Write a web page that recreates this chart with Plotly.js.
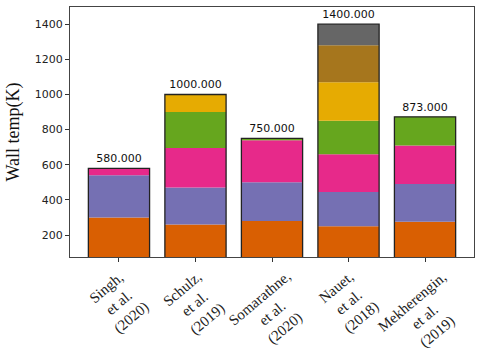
<!DOCTYPE html>
<html><head><meta charset="utf-8">
<script src="https://cdn.plot.ly/plotly-3.0.1.min.js"></script>
<style>body{margin:0;background:#fff}#c{width:480px;height:352px}</style>
</head><body><div id="c"></div>
<script>
const categories = ["Singh,<br>et al.<br>(2020)", "Schulz,<br>et al.<br>(2019)", "Somarathne,<br>et al.<br>(2020)", "Nauet,<br>et al.<br>(2018)", "Mekherengin,<br>et al.<br>(2019)"];
// segment heights per layer (bottom to top); null = no segment
const layer1 = [300, 260, 280, 250, 275];
const layer2 = [240, 210, 220, 195, 215];
const layer3 = [40, 225, 240, 215, 220];
const layer4 = [null, 205, 10, 190, 163];
const layer5 = [null, 100, null, 220, null];
const layer6 = [null, null, null, 210, null];
const layer7 = [null, null, null, 120, null];
const totals = [580, 1000, 750, 1400, 873];
const colors = ["#d95f02", "#7570b3", "#e7298a", "#66a61e", "#e6ab02", "#a6761d", "#666666"];
const layers = [layer1, layer2, layer3, layer4, layer5, layer6, layer7];

const x = [0, 1, 2, 3, 4];
const traces = [];
const cum = [0, 0, 0, 0, 0];
layers.forEach((lay, i) => {
  const base = cum.slice();
  traces.push({
    type: 'bar', x: x, y: lay.map(v => v === null ? 0 : v), base: base,
    width: 0.8, marker: {color: colors[i], line: {width: 0}},
    hoverinfo: 'skip', showlegend: false
  });
  lay.forEach((v, j) => { if (v !== null) cum[j] += v; });
});
traces.push({
  type: 'bar', x: x, y: totals, base: [0, 0, 0, 0, 0], width: 0.8,
  marker: {color: 'rgba(0,0,0,0)', line: {color: '#222', width: 1.3}},
  text: totals.map(v => v.toFixed(3)), textposition: 'outside', cliponaxis: false,
  textfont: {family: 'DejaVu Sans', size: 11, color: '#111'},
  showlegend: false
});

const annotations = categories.map((c, i) => ({
  x: x[i], xref: 'x', y: 0, yref: 'paper', text: c, showarrow: false,
  textangle: -40, align: 'center', xanchor: 'center', yanchor: 'top',
  yshift: -10, borderpad: 0,
  font: {family: 'Liberation Serif', size: 15, color: '#222'}
}));

const layout = {
  width: 480, height: 352,
  margin: {l: 70, r: 6, t: 7, b: 95},
  barmode: 'overlay',
  paper_bgcolor: '#fff', plot_bgcolor: '#fff',
  annotations: annotations,
  xaxis: {
    range: [-0.64, 4.64], tickvals: x, showticklabels: false,
    ticks: 'outside', ticklen: 4, tickcolor: '#333',
    showline: true, mirror: true, linecolor: '#444', linewidth: 1,
    showgrid: false, zeroline: false
  },
  yaxis: {
    range: [75, 1498], tickvals: [200, 400, 600, 800, 1000, 1200, 1400],
    ticks: 'outside', ticklen: 4, tickcolor: '#333',
    showline: true, mirror: true, linecolor: '#444', linewidth: 1,
    showgrid: false, zeroline: false,
    tickfont: {family: 'DejaVu Sans', size: 11, color: '#222'},
    title: {text: 'Wall temp(K)', font: {family: 'Liberation Serif', size: 18, color: '#111'}, standoff: 10}
  },
  font: {family: 'DejaVu Sans'}
};
Plotly.newPlot('c', traces, layout, {displayModeBar: false, staticPlot: true});
</script></body></html>
